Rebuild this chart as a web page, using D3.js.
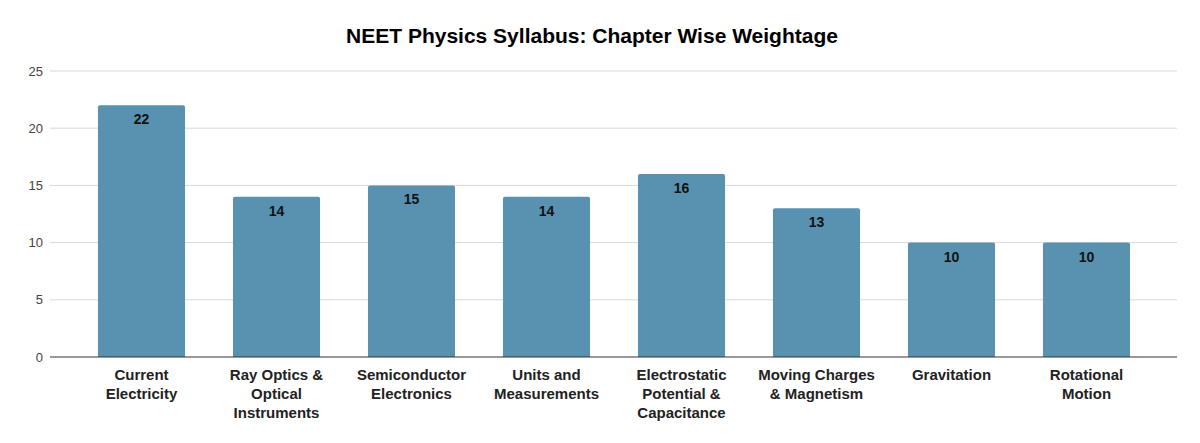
<!DOCTYPE html>
<html>
<head>
<meta charset="utf-8">
<script src="https://cdn.jsdelivr.net/npm/d3@7"></script>
<style>
  body { margin: 0; background: #fff; }
  text { font-family: "Liberation Sans", Arial, sans-serif; }
</style>
</head>
<body>
<div id="okvir"></div>
<script>
const chapters = [
  ["Current", "Electricity"],
  ["Ray Optics &", "Optical", "Instruments"],
  ["Semiconductor", "Electronics"],
  ["Units and", "Measurements"],
  ["Electrostatic", "Potential &", "Capacitance"],
  ["Moving Charges", "& Magnetism"],
  ["Gravitation"],
  ["Rotational", "Motion"]
];
const weightage = [22, 14, 15, 14, 16, 13, 10, 10];
const yTicks = [0, 5, 10, 15, 20, 25];

function crtaj() {
  const sirina = 1200, visina = 443;
  const grid = { left: 50, right: 1177 };

  const svg = d3.select("#okvir").append("svg")
    .attr("width", sirina)
    .attr("height", visina);

  svg.append("text")
    .attr("x", 592)
    .attr("y", 43)
    .attr("text-anchor", "middle")
    .style("font-size", "21px")
    .style("font-weight", "bold")
    .attr("fill", "#000")
    .text("NEET Physics Syllabus: Chapter Wise Weightage");

  const x = d3.scaleBand()
    .domain(d3.range(chapters.length))
    .range([74, 1154])
    .paddingInner(0.355)
    .paddingOuter(0.1775);

  const y = d3.scaleLinear()
    .domain([0, 25])
    .range([357, 71]);

  // gridlines
  svg.append("g").selectAll("line")
    .data(yTicks.filter(d => d > 0))
    .enter().append("line")
      .attr("x1", grid.left)
      .attr("x2", grid.right)
      .attr("y1", d => y(d))
      .attr("y2", d => y(d))
      .attr("stroke", "#d9d9d9")
      .attr("stroke-width", 1);

  svg.append("g").selectAll("text")
    .data(yTicks)
    .enter().append("text")
      .attr("x", 43)
      .attr("y", d => y(d))
      .attr("dy", "0.35em")
      .attr("text-anchor", "end")
      .style("font-size", "13px")
      .attr("fill", "#444")
      .text(d => d);

  // bars with slightly rounded top
  const r = 2;
  svg.append("g").selectAll("path")
    .data(weightage)
    .enter().append("path")
      .attr("fill", "#5991b0")
      .attr("d", (d, i) => {
        const x0 = x(i), x1 = x(i) + x.bandwidth(), y0 = y(0), y1 = y(d);
        return `M${x0},${y0}V${y1 + r}Q${x0},${y1} ${x0 + r},${y1}H${x1 - r}Q${x1},${y1} ${x1},${y1 + r}V${y0}Z`;
      });

  svg.append("line")
    .attr("x1", grid.left)
    .attr("x2", grid.right)
    .attr("y1", y(0))
    .attr("y2", y(0))
    .attr("stroke", "#333")
    .attr("stroke-width", 1);

  svg.append("g").selectAll("text")
    .data(weightage)
    .enter().append("text")
      .attr("x", (d, i) => x(i) + x.bandwidth() / 2)
      .attr("y", d => y(d) + 19)
      .attr("text-anchor", "middle")
      .style("font-size", "14px")
      .style("font-weight", "bold")
      .attr("fill", "#111")
      .text(d => d);

  const kategorije = svg.append("g").selectAll("text")
    .data(chapters)
    .enter().append("text")
      .attr("x", (d, i) => x(i) + x.bandwidth() / 2)
      .attr("y", 380)
      .attr("text-anchor", "middle")
      .style("font-size", "15px")
      .style("font-weight", "bold")
      .attr("fill", "#222");

  kategorije.selectAll("tspan")
    .data(d => d)
    .enter().append("tspan")
      .attr("x", function() { return d3.select(this.parentNode).attr("x"); })
      .attr("dy", (d, j) => j === 0 ? 0 : 19)
      .text(d => d);
}

crtaj();
</script>
</body>
</html>
